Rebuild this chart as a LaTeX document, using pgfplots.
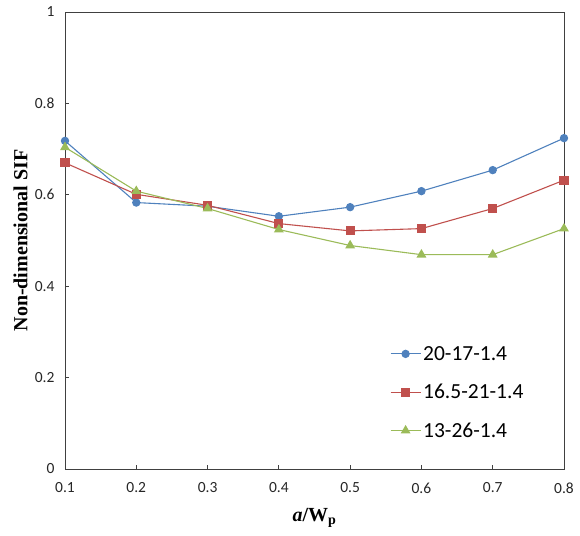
\documentclass[border=0pt]{standalone}
\usepackage{pgfplots}
\pgfplotsset{compat=1.18}
\usepackage{fontspec}
\setmainfont{Carlito}
\newfontfamily\tnr{Liberation Serif}
\definecolor{serA}{HTML}{4F81BD}
\definecolor{serB}{HTML}{C0504D}
\definecolor{serC}{HTML}{9BBB59}
\definecolor{axisc}{HTML}{404040}
\tikzset{
  ser/.style={line width=1.1pt, mark options={solid}},
}
\begin{document}
\begin{tikzpicture}
\path[use as bounding box] (0pt,0pt) rectangle (580pt,535pt);
\begin{axis}[
  at={(65pt,66pt)}, anchor=south west,
  scale only axis, width=499pt, height=457pt,
  xmin=0.1, xmax=0.8, ymin=0, ymax=1,
  xtick={0.1,0.2,...,0.8}, ytick={0,0.2,...,1},
  tick pos=left, tick align=inside,
  major tick length=4pt,
  axis line style={axisc, line width=0.9pt},
  tick style={axisc, line width=0.8pt},
  /pgf/number format/assume math mode=true,
  /pgf/number format/fixed,
  /pgf/number format/precision=1,
  ticklabel style={font=\fontsize{15.5}{17}\selectfont, text=black!85},
  xticklabel style={yshift=-10pt},
  yticklabel style={xshift=-7pt},
  xlabel={{\tnr\bfseries\itshape a\upshape/W\textsubscript{p}}},
  ylabel={{\tnr\bfseries Non-dimensional SIF}},
  label style={font=\fontsize{20}{23}\selectfont},
  xlabel style={at={(axis description cs:0.5,0)}, anchor=north, yshift=-36pt},
  ylabel style={at={(axis description cs:0,0.5)}, anchor=south, yshift=34pt},
  legend style={draw=none, fill=none, font=\fontsize{21.5}{25}\selectfont,
    at={(0.645,0.278)}, anchor=north west, row sep=18.5pt,
    /tikz/every even column/.append style={column sep=11pt}},
  legend cell align=left,
  legend image code/.code={
    \draw[#1] (0pt,0pt) -- (30pt,0pt);
    \draw[#1, only marks] plot coordinates {(15pt,0pt)};
  },
]
\addplot[ser, color=serA, mark=*, mark size=3.6pt] coordinates {
  (0.1,0.718) (0.2,0.583) (0.3,0.575) (0.4,0.553)
  (0.5,0.573) (0.6,0.608) (0.7,0.654) (0.8,0.724)
};
\addlegendentry{20-17-1.4}
\addplot[ser, color=serB, mark=square*, mark size=4pt] coordinates {
  (0.1,0.670) (0.2,0.601) (0.3,0.577) (0.4,0.537)
  (0.5,0.521) (0.6,0.526) (0.7,0.570) (0.8,0.632)
};
\addlegendentry{16.5-21-1.4}
\addplot[ser, color=serC, mark=triangle*, mark size=4.6pt] coordinates {
  (0.1,0.704) (0.2,0.608) (0.3,0.570) (0.4,0.524)
  (0.5,0.489) (0.6,0.469) (0.7,0.469) (0.8,0.526)
};
\addlegendentry{13-26-1.4}
\end{axis}
\end{tikzpicture}
\end{document}
